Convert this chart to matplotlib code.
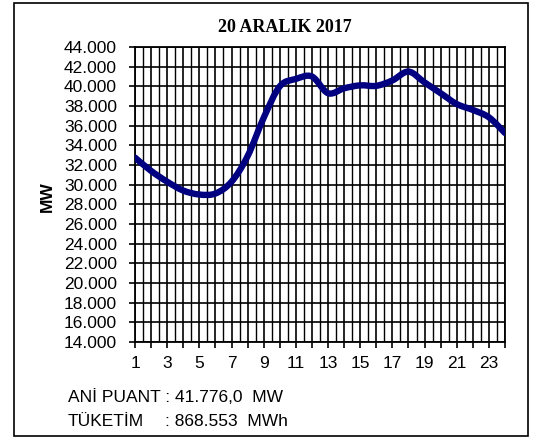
import numpy as np
import matplotlib.pyplot as plt
from matplotlib.path import Path
from matplotlib.patches import PathPatch, Rectangle
from matplotlib.ticker import FuncFormatter, MultipleLocator

# hourly load, MW
hours = list(range(1, 25))
load_mw = [32750, 31400, 30300, 29400, 29000, 29100, 30300, 32900,
           36800, 40000, 40750, 41000, 39300, 39800, 40100, 40050,
           40600, 41500, 40400, 39300, 38200, 37600, 36850, 35250]

title = "20 ARALIK 2017"
peak_text = "ANİ PUANT : 41.776,0  MW"
cons_label = "TÜKETİM"
cons_text = ": 868.553  MWh"


def smooth_path(x, y):
    # excel style smoothed line as cubic bezier segments
    x = np.asarray(x, float)
    y = np.asarray(y, float)
    n = len(x)
    verts = [(x[0], y[0])]
    codes = [Path.MOVETO]
    for i in range(n - 1):
        i0 = max(i - 1, 0)
        i3 = min(i + 2, n - 1)
        c1 = (x[i] + (x[i + 1] - x[i0]) / 6, y[i] + (y[i + 1] - y[i0]) / 6)
        c2 = (x[i + 1] - (x[i3] - x[i]) / 6, y[i + 1] - (y[i3] - y[i]) / 6)
        verts += [c1, c2, (x[i + 1], y[i + 1])]
        codes += [Path.CURVE4] * 3
    return Path(verts, codes)


plt.rcParams['font.family'] = ['Liberation Sans', 'DejaVu Sans']

W, H = 542, 438
fig = plt.figure(figsize=(W / 100, H / 100), dpi=100)
fig.patches.append(Rectangle((14 / W, 2 / H), 514 / W, 433 / H,
                             transform=fig.transFigure, fill=False,
                             edgecolor='black', linewidth=1.2))

ax = fig.add_axes([135 / W, 1 - 342 / H, 370 / W, 295 / H])

patch = PathPatch(smooth_path(hours, load_mw), facecolor='none',
                  edgecolor='#000080', linewidth=4.6, capstyle='round',
                  joinstyle='round', zorder=3)
ax.add_patch(patch)

ax.set_xlim(1, 24)
ax.set_ylim(14000, 44000)
ax.yaxis.set_major_locator(MultipleLocator(2000))
ax.yaxis.set_major_formatter(FuncFormatter(lambda v, p: f"{v:,.0f}".replace(",", ".")))
ax.set_xticks(hours)
ax.set_xticklabels([str(h) if h % 2 else "" for h in hours])
ax.set_xticks(np.arange(1.5, 24, 1.0), minor=True)

ax.grid(True, which='major', color='black', linewidth=1.2)
ax.grid(True, which='minor', axis='x', color='black', linewidth=1.0)
ax.tick_params(axis='both', which='major', direction='out', length=4,
               width=1.2, labelsize=12.5)
ax.tick_params(axis='y', pad=9)
ax.tick_params(axis='x', pad=6)
ax.tick_params(axis='x', which='minor', length=0)
for s in ax.spines.values():
    s.set_linewidth(1.3)

fig.text(284.5 / W, 1 - 27.5 / H, title, fontsize=13, fontweight='bold',
         family='Liberation Serif', ha='center', va='center')
fig.text(47.5 / W, 1 - 197 / H, "MW", fontsize=12.5, fontweight='bold',
         rotation=90, ha='center', va='center')

fig.text(68 / W, 1 - 397 / H, peak_text, fontsize=12.5, va='center', ha='left')
fig.text(68 / W, 1 - 422 / H, cons_label, fontsize=12.5, va='center', ha='left')
fig.text(165 / W, 1 - 422 / H, cons_text, fontsize=12.5, va='center', ha='left')

fig.savefig("out.png", dpi=100)
